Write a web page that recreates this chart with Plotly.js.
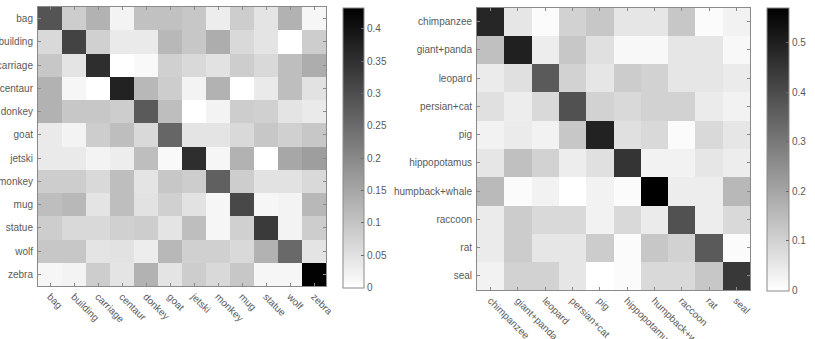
<!DOCTYPE html>
<html>
<head>
<meta charset="utf-8">
<script src="https://cdn.plot.ly/plotly-3.0.1.min.js"></script>
<style>
  html, body { margin: 0; padding: 0; background: #fff; }
  #chart { width: 815px; height: 339px; }
</style>
</head>
<body>
<div id="chart"></div>
<script>
// Confusion matrix, first dataset (rows = true class, columns = predicted class)
const classesA = ['bag', 'building', 'carriage', 'centaur', 'donkey', 'goat',
                  'jetski', 'monkey', 'mug', 'statue', 'wolf', 'zebra'];
const confA = [
  [0.290, 0.085, 0.130, 0.020, 0.105, 0.105, 0.095, 0.030, 0.085, 0.045, 0.130, 0.015],
  [0.065, 0.320, 0.080, 0.035, 0.035, 0.120, 0.095, 0.140, 0.065, 0.045, 0.000, 0.085],
  [0.095, 0.045, 0.355, 0.000, 0.010, 0.080, 0.065, 0.050, 0.085, 0.065, 0.110, 0.140],
  [0.130, 0.015, 0.000, 0.375, 0.120, 0.085, 0.020, 0.130, 0.000, 0.035, 0.110, 0.050],
  [0.130, 0.095, 0.095, 0.085, 0.280, 0.110, 0.000, 0.020, 0.085, 0.080, 0.045, 0.035],
  [0.035, 0.020, 0.085, 0.110, 0.065, 0.260, 0.045, 0.045, 0.065, 0.095, 0.080, 0.095],
  [0.035, 0.035, 0.020, 0.030, 0.110, 0.010, 0.355, 0.015, 0.130, 0.000, 0.150, 0.165],
  [0.085, 0.085, 0.065, 0.110, 0.045, 0.095, 0.085, 0.270, 0.085, 0.050, 0.050, 0.065],
  [0.110, 0.120, 0.045, 0.110, 0.050, 0.080, 0.050, 0.015, 0.310, 0.015, 0.020, 0.120],
  [0.085, 0.065, 0.065, 0.080, 0.085, 0.045, 0.110, 0.015, 0.080, 0.335, 0.020, 0.085],
  [0.095, 0.095, 0.045, 0.050, 0.030, 0.120, 0.080, 0.080, 0.065, 0.130, 0.255, 0.045],
  [0.015, 0.020, 0.085, 0.045, 0.130, 0.045, 0.085, 0.065, 0.095, 0.015, 0.015, 0.430]
];

// Confusion matrix, second dataset
const classesB = ['chimpanzee', 'giant+panda', 'leopard', 'persian+cat', 'pig',
                  'hippopotamus', 'humpback+whale', 'raccoon', 'rat', 'seal'];
const confB = [
  [0.485, 0.055, 0.010, 0.100, 0.125, 0.055, 0.055, 0.125, 0.010, 0.030],
  [0.140, 0.500, 0.040, 0.125, 0.070, 0.015, 0.015, 0.055, 0.055, 0.015],
  [0.045, 0.070, 0.370, 0.100, 0.055, 0.115, 0.100, 0.055, 0.055, 0.045],
  [0.070, 0.040, 0.085, 0.390, 0.100, 0.085, 0.100, 0.100, 0.045, 0.030],
  [0.030, 0.045, 0.030, 0.125, 0.495, 0.070, 0.085, 0.010, 0.085, 0.055],
  [0.055, 0.140, 0.100, 0.040, 0.070, 0.455, 0.030, 0.030, 0.055, 0.040],
  [0.155, 0.010, 0.030, 0.000, 0.030, 0.010, 0.570, 0.040, 0.040, 0.160],
  [0.045, 0.115, 0.085, 0.085, 0.030, 0.085, 0.045, 0.390, 0.040, 0.085],
  [0.045, 0.115, 0.055, 0.055, 0.115, 0.010, 0.125, 0.100, 0.370, 0.010],
  [0.030, 0.100, 0.100, 0.055, 0.000, 0.010, 0.085, 0.085, 0.125, 0.445]
];

const W = 815, H = 339;
const grayScale = [[0, '#ffffff'], [1, '#000000']];
const textColor = '#5a5a5a';
const lineColor = '#8a8a8a';
const tickFont = { family: 'Liberation Sans, Arial, sans-serif', size: 10, color: textColor };

function px2x(p) { return p / W; }
function px2y(p) { return 1 - p / H; }

function colorbar(left, top, bottom, thick, dtick) {
  return {
    x: px2x(left), xanchor: 'left', xref: 'paper',
    y: px2y(top), yanchor: 'top', yref: 'paper',
    len: (bottom - top) / H, lenmode: 'fraction',
    thickness: thick, thicknessmode: 'pixels',
    xpad: 0, ypad: 0,
    outlinecolor: lineColor, outlinewidth: 1,
    ticks: 'inside', ticklen: 3, tickcolor: '#666',
    dtick: dtick, tick0: 0,
    tickfont: tickFont
  };
}

const traces = [
  {
    type: 'heatmap', x: classesA, y: classesA, z: confA,
    xaxis: 'x', yaxis: 'y',
    colorscale: grayScale, zmin: 0, zmax: 0.433,
    colorbar: colorbar(343, 7.5, 287, 21, 0.05),
    hoverinfo: 'x+y+z'
  },
  {
    type: 'heatmap', x: classesB, y: classesB, z: confB,
    xaxis: 'x2', yaxis: 'y2',
    colorscale: grayScale, zmin: 0, zmax: 0.571,
    colorbar: colorbar(767, 7.5, 290, 22, 0.1),
    hoverinfo: 'x+y+z'
  }
];

function axis(domain, extra) {
  return Object.assign({
    domain: domain,
    showline: true, mirror: 'ticks', linecolor: lineColor, linewidth: 1,
    ticks: 'inside', ticklen: 3, tickcolor: lineColor,
    showgrid: false, zeroline: false,
    tickfont: tickFont, fixedrange: true
  }, extra);
}

const layout = {
  width: W, height: H,
  margin: { l: 0, r: 0, t: 0, b: 0 },
  paper_bgcolor: '#ffffff', plot_bgcolor: '#ffffff',
  showlegend: false,
  xaxis: axis([px2x(38), px2x(326)], { anchor: 'y', tickangle: 45, categoryorder: 'array', categoryarray: classesA }),
  yaxis: axis([px2y(286), px2y(7)], { anchor: 'x', autorange: 'reversed', categoryorder: 'array', categoryarray: classesA, ticklabelstandoff: 2 }),
  xaxis2: axis([px2x(477), px2x(750)], { anchor: 'y2', tickangle: 45, categoryorder: 'array', categoryarray: classesB }),
  yaxis2: axis([px2y(290), px2y(7.5)], { anchor: 'x2', autorange: 'reversed', categoryorder: 'array', categoryarray: classesB, ticklabelstandoff: 2 })
};

Plotly.newPlot('chart', traces, layout, { displayModeBar: false, staticPlot: true });
</script>
</body>
</html>
